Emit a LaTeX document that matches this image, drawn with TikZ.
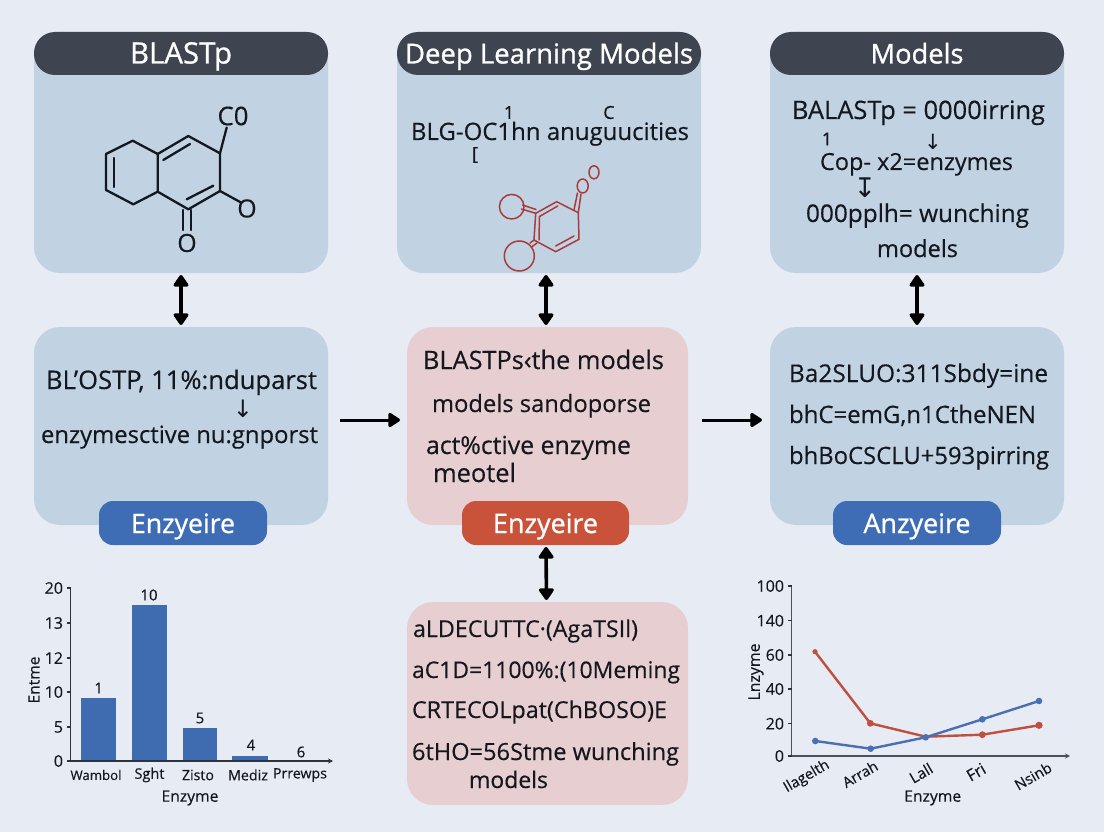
\documentclass[tikz,border=0pt]{standalone}
\usepackage{fontspec}
\usepackage{graphicx}
\setmainfont[RawFeature={embolden=0.35}]{Open Sans}
\newfontfamily\headfont[RawFeature={embolden=0.9}]{Open Sans}
\newfontfamily\symfont{DejaVu Sans}
\usetikzlibrary{arrows.meta}
\definecolor{bgc}{HTML}{E7ECF4}
\definecolor{cardblue}{HTML}{C1D2E3}
\definecolor{cardpink}{HTML}{E7CFD1}
\definecolor{headc}{HTML}{3F4451}
\definecolor{pillblue}{HTML}{3F6DB5}
\definecolor{pillred}{HTML}{C9533A}
\definecolor{ink}{HTML}{14171E}
\definecolor{axisc}{HTML}{2E323A}
\definecolor{barc}{HTML}{3F6BB0}
\definecolor{chemred}{HTML}{A83C3C}
\definecolor{linered}{HTML}{BE5040}
\definecolor{lineblue}{HTML}{4A6FB3}
\newcommand\fitw[2]{\resizebox{#1pt}{!}{#2}}
\tikzset{
  x=1pt,y=-1pt,
  cardbase/.style={rounded corners=26pt,minimum height=#1,inner sep=0pt,outer sep=0pt,draw=none},
  cardb/.style={cardbase=#1,fill=cardblue},
  cardp/.style={cardbase=#1,fill=cardpink},
  head/.style={fill=headc,rounded corners=21pt,minimum height=43pt,inner sep=0pt,outer sep=0pt,text=white,text height=20pt,text depth=0pt,font=\headfont},
  pill/.style={rounded corners=14pt,minimum width=168pt,minimum height=44pt,inner sep=0pt,outer sep=0pt,text=white,text height=20pt,text depth=0pt,font=\headfont},
  txt/.style={anchor=base west,inner sep=0pt,outer sep=0pt,text=ink,font=\fontsize{24}{24}\selectfont},
  txtc/.style={anchor=base,inner sep=0pt,outer sep=0pt,text=ink,font=\fontsize{24}{24}\selectfont},
  small/.style={anchor=center,inner sep=0pt,outer sep=0pt,text=ink,font=\fontsize{18}{18}\selectfont},
  atom/.style={anchor=center,inner sep=0pt,outer sep=0pt,text=ink,font=\fontsize{25}{25}\selectfont},
  tick/.style={anchor=east,inner sep=0pt,outer sep=0pt,text=ink,font=\fontsize{16}{16}\selectfont},
  lab/.style={anchor=center,inner sep=0pt,outer sep=0pt,text=ink,font=\fontsize{15}{15}\selectfont},
  axl/.style={anchor=center,inner sep=0pt,outer sep=0pt,text=ink,font=\fontsize{15.5}{16}\selectfont},
  dblarrow/.style={line width=3.6pt,black,{Triangle[width=17pt,length=13pt,round]}-{Triangle[width=17pt,length=13pt,round]},shorten <=2pt,shorten >=2pt},
  harrow/.style={line width=3pt,black,-{Triangle[width=16pt,length=13pt,round]}},
  bond/.style={line width=2.3pt,ink,line cap=round,line join=round},
  rbond/.style={line width=1.5pt,chemred,line cap=round,line join=round},
  axisl/.style={line width=1.2pt,axisc},
  axisk/.style={line width=1.5pt,axisc!85!white},
  plotl/.style={line width=2.4pt,line join=round},
}
\begin{document}
\begin{tikzpicture}
\useasboundingbox (0,0) rectangle (1104,832);
\fill[bgc] (0,0) rectangle (1104,832);

% cards
\node[cardb=241pt,minimum width=294pt] (c1) at (181,152.5) {};
\node[cardb=241pt,minimum width=304pt] (c2) at (549,152.5) {};
\node[cardb=241pt,minimum width=294pt] (c3) at (917,152.5) {};
\node[cardb=198pt,minimum width=294pt] (c4) at (181,426) {};
\node[cardp=198pt,minimum width=281pt] (c5) at (547.5,426) {};
\node[cardb=198pt,minimum width=294pt] (c6) at (917,426) {};
\node[cardp=203pt,minimum width=281pt] (c7) at (547.5,703.5) {};

% headers
\node[head,minimum width=294pt] (h1) at (181,53.5) {\fitw{102}{BLASTp}};
\node[head,minimum width=304pt] (h2) at (549,53.5) {\fitw{288}{Deep Learning Models}};
\node[head,minimum width=294pt] (h3) at (917,53.5) {\fitw{93}{Models}};

% pills
\node[pill,fill=pillblue] (p1) at (183,523) {\fitw{104}{Enzyeire}};
\node[pill,fill=pillred,minimum width=167pt] (p2) at (545.5,523) {\fitw{105}{Enzyeire}};
\node[pill,fill=pillblue] (p3) at (917,523) {\fitw{107}{Anzyeire}};

% connectors
\draw[dblarrow] (c1.south) -- (c4.north);
\draw[dblarrow] ([xshift=-3pt]c2.south) -- ([xshift=-1.5pt]c5.north);
\draw[dblarrow] (c3.south) -- (c6.north);
\draw[dblarrow] ([xshift=.5pt]p2.south) -- ([xshift=-1pt]c7.north);
\draw[harrow,shorten <=12pt,shorten >=7pt] ([yshift=6pt]c4.east) -- ([yshift=6pt]c5.west);
\draw[harrow,shorten <=14pt,shorten >=8pt] ([yshift=6pt]c5.east) -- ([yshift=6pt]c6.west);

% molecule, card 1
\coordinate (a1) at (132.7,140.7);
\coordinate (a2) at (106,154);
\coordinate (a3) at (106,190);
\coordinate (a4) at (133.3,204.3);
\coordinate (a5) at (157.7,191.7);
\coordinate (a6) at (157.7,154);
\coordinate (a7) at (188.3,136);
\coordinate (a8) at (220,153.3);
\coordinate (a9) at (220,191);
\coordinate (a10) at (188.3,209.3);
\draw[bond] (a1)--(a2)--(a3)--(a4)--(a5)--(a6)--cycle;
\draw[bond] (a6)--(a7)--(a8)--(a9)--(a10)--(a5);
\draw[bond] (114.3,158)--(114.3,187);
\draw[bond] (163.3,160)--(190,144);
\draw[bond] (186.7,199.3)--(213.3,185.7);
\node[atom] (co) at (233,116) {\fitw{31}{C0}};
\node[atom] (o1) at (247,208.5) {O};
\node[atom] (o2) at (187,243) {O};
\draw[bond] (a8)--(226.7,127.5);
\draw[bond] (a9)--(241,202.5);
\draw[bond] (183.3,210)--(183.3,230);
\draw[bond] (190.7,210)--(190.7,230);

% card 2 text
\node[txtc] (t2a) at (550,140) {\fitw{278}{BLG-OC1hn anuguucities}};
\node[small] (t2b) at (509,112.5) {1};
\node[small] (t2c) at (609,112.5) {C};
\node[small] (t2d) at (475,155) {[};

% molecule, card 2
\coordinate (r1) at (556.7,201.7);
\coordinate (r2) at (578.3,212.7);
\coordinate (r3) at (579,239.3);
\coordinate (r4) at (555.7,251.7);
\coordinate (r5) at (534,240);
\coordinate (r6) at (535.7,213.3);
\draw[rbond] (r1)--(r2)--(r3)--(r4)--(r5)--(r6)--cycle;
\draw[rbond] (557.7,206)--(539.5,216.5)--(539,240);
\draw[rbond] (555.7,246)--(574,236);
\draw[rbond] (r2)--(581,194);
\draw[rbond] (574,210)--(577.5,193);
\draw[rbond] (521.5,209)--(535.7,213.3);
\draw[rbond] (522.5,205)--(536,209.5);
\draw[rbond] (530,243)--(534,240);
\draw[rbond] (531.5,247)--(537,243);
\draw[rbond] (511.7,206.7) circle[radius=12.3];
\draw[rbond] (519.3,256) circle[radius=15];
\draw[rbond] (582.7,186) ellipse[x radius=5.5,y radius=7];
\draw[rbond] (594,172.3) ellipse[x radius=5,y radius=6.5];

% card 3 text
\node[txtc] (t3a) at (918.5,119) {\fitw{253}{BALASTp = 0000irring}};
\node[small] (t3b) at (827,139) {1};
\node[small,font=\symfont\fontsize{21}{21}\selectfont] (t3c) at (933,142) {↓};
\node[txtc] (t3d) at (916.5,170) {\fitw{193}{Cop- x2=enzymes}};
\node[small,font=\symfont\fontsize{27}{27}\selectfont] (t3e) at (865,188) {↧};
\node[txtc] (t3f) at (917.5,222) {\fitw{223}{000pplh= wunching}};
\node[txtc] (t3g) at (917.5,257) {\fitw{81}{models}};

% card 4 text
\node[txt] (t4a) at (46,389) {\fitw{271}{BL'OSTP, 11\%:nduparst}};
\node[small,font=\symfont\fontsize{24}{24}\selectfont] (t4b) at (243,409) {↓};
\node[txt] (t4c) at (41,443) {\fitw{277}{enzymesctive nu:gnporst}};

% card 5 text
\node[txt] (t5a) at (423,369) {\fitw{241}{BLASTPs‹the models}};
\node[txt] (t5b) at (432,412) {\fitw{219}{models sandoporse}};
\node[txt] (t5c) at (426,454) {\fitw{205}{act\%ctive enzyme}};
\node[txt] (t5d) at (433,482) {\fitw{83}{meotel}};

% card 6 text
\node[txt] (t6a) at (789,382) {\fitw{259}{Ba2SLUO:311Sbdy=ine}};
\node[txt] (t6b) at (789,423) {\fitw{247}{bhC=emG,n1CtheNEN}};
\node[txt] (t6c) at (789,464) {\fitw{260}{bhBoCSCLU+593pirring}};

% card 7 text
\node[txt] (t7a) at (413,637) {\fitw{225}{aLDECUTTC·(AgaTSIl)}};
\node[txt] (t7b) at (412,678) {\fitw{268}{aC1D=1100\%:(10Meming}};
\node[txt] (t7c) at (412,718) {\fitw{255}{CRTECOLpat(ChBOSO)E}};
\node[txt] (t7d) at (412,760) {\fitw{267}{6tHO=56Stme wunching}};
\node[txt] (t7e) at (469,788) {\fitw{79}{models}};

% bar chart
\fill[barc] (81,698) rectangle (116,761);
\fill[barc] (131.7,605) rectangle (166.7,761);
\fill[barc] (182.7,728) rectangle (216.7,761);
\fill[barc] (232,755.7) rectangle (268,761);
\coordinate (bo) at (70.7,761);
\coordinate (bt) at (70.7,588);
\coordinate (bx) at (333,761);
\coordinate (bs) at (67,761);
\draw[axisl] (bt)--(bo);
\draw[axisl,-{Stealth[length=5pt,width=5pt]}] (bs)--(bx);
\foreach \yy/\tt/\nn in {588/20/a,623/13/b,658/12/c,692/10/d,727/5/e,761/0/f}{
  \draw[axisl] (67,\yy)--(70.7,\yy);
  \node[tick] (by\nn) at (63,\yy) {\tt};
}
\node[lab] (bv1) at (98.7,688) {1};
\node[lab] (bv2) at (149,595) {10};
\node[lab] (bv3) at (200,718) {5};
\node[lab] (bv4) at (251,745) {4};
\node[lab] (bv5) at (301,752) {6};
\node[lab] (bc1) at (96,775) {\fitw{51}{Wambol}};
\node[lab] (bc2) at (149.5,775) {\fitw{30}{Sght}};
\node[lab] (bc3) at (198,775) {\fitw{32}{Zisto}};
\node[lab] (bc4) at (248,775) {\fitw{40}{Mediz}};
\node[lab] (bc5) at (300,775) {\fitw{54}{Prrewps}};
\node[axl] (bxl) at (190,798) {\fitw{57}{Enzyme}};
\node[axl,rotate=90] (byl) at (34,680) {\fitw{47}{Entme}};

% line chart
\coordinate (lo) at (791.7,756);
\coordinate (lt) at (791.7,586);
\coordinate (lx) at (1070,756);
\coordinate (ls) at (788,756);
\draw[axisk] (lt)--(lo);
\draw[axisk,-{Stealth[length=5pt,width=5pt]}] (ls)--(lx);
\foreach \yy/\tt/\nn in {586/100/a,620.7/140/b,655/60/c,689/40/d,723.7/20/e,756/0/f}{
  \draw[axisl] (788,\yy)--(791.7,\yy);
  \node[tick] (ly\nn) at (784,\yy) {\tt};
}
\draw[plotl,linered] (815,651.7)--(870.3,723.3)--(925.7,736.7)--(982.3,734.7)--(1039,725.3);
\foreach \xx/\yy/\rr in {815/651.7/2.6,870.3/723.3/3.4,982.3/734.7/3.4,1039/725.3/3.6}{\fill[linered] (\xx,\yy) circle[radius=\rr];}
\draw[plotl,lineblue] (815.3,741)--(870.7,748.7)--(925.7,737.3)--(982.3,719.3)--(1039,701);
\foreach \xx/\yy in {815.3/741,870.7/748.7,925.7/737.3,982.3/719.3,1039/701}{\fill[lineblue] (\xx,\yy) circle[radius=3.3];}
\node[lab,rotate=30] (lc1) at (806.7,776.7) {\fitw{50}{Ilagelth}};
\node[lab,rotate=30] (lc2) at (860,774) {\fitw{38}{Arrah}};
\node[lab,rotate=30] (lc3) at (921,773) {\fitw{24}{Lall}};
\node[lab,rotate=30] (lc4) at (976,772) {\fitw{19}{Fri}};
\node[lab,rotate=30] (lc5) at (1033,776) {\fitw{40}{Nsinb}};
\node[axl] (lxl) at (932.7,798) {\fitw{57}{Enzyme}};
\node[axl,rotate=90] (lyl) at (756,672) {\fitw{57}{Lnzyme}};
\end{tikzpicture}
\end{document}
